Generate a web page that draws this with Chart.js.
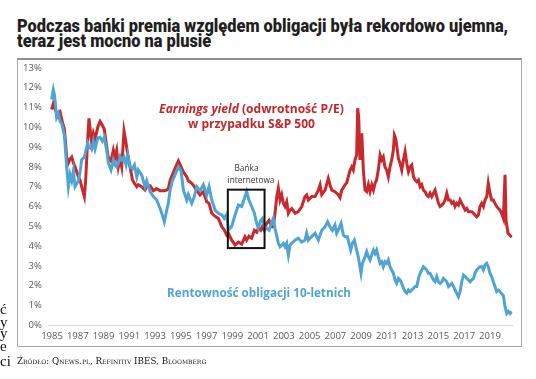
<!DOCTYPE html>
<html><head><meta charset="utf-8">
<script src="https://cdn.jsdelivr.net/npm/chart.js@4.4.1/dist/chart.umd.min.js"></script>
<style>
html,body{margin:0;padding:0;background:#fff;}
body{width:536px;height:379px;overflow:hidden;position:relative;font-family:"Open Sans",sans-serif;}
.t{position:absolute;white-space:nowrap;}
.c{transform:translate(-50%,-50%);}
#t1,#t2{left:17px;font-family:Roboto,sans-serif;font-weight:900;font-size:17.5px;line-height:17px;color:#231f20;transform-origin:0 50%;}
#t1{top:18px}#t2{top:33px}
#frame{position:absolute;left:17px;top:58px;width:503px;height:286px;border:1px solid #a9a9a9;border-top:2px solid #8f8f8f;}
#wrap{position:absolute;left:0;top:0;width:536px;height:379px;}
.red{color:#c3262b;font-weight:700;font-size:12px;}
.blue{color:#4ea4d4;font-weight:700;font-size:12px;}
.bub{color:#333;font-size:10px;}
#src{left:17px;top:356px;font-family:"DejaVu Serif",serif;font-variant:small-caps;font-size:10px;color:#111;}
.frag{left:0px;font-family:"Liberation Serif",serif;font-size:15px;line-height:15px;color:#111;}
</style></head>
<body>
<div id="t1" class="t">Podczas bańki premia względem obligacji była rekordowo ujemna,</div>
<div id="t2" class="t">teraz jest mocno na plusie</div>
<div id="frame"></div>
<div id="wrap"><canvas id="cv" width="536" height="379"></canvas></div>
<div id="r1" class="t c red" style="left:251.5px;top:107.5px"><i>Earnings yield</i> (odwrotność P/E)</div>
<div id="r2" class="t c red" style="left:251.5px;top:122.5px">w przypadku S&amp;P 500</div>
<div id="b1" class="t c bub" style="left:246.5px;top:166.5px">Bańka</div>
<div id="b2" class="t c bub" style="left:251px;top:178.5px">internetowa</div>
<div id="bl" class="t c blue" style="left:259px;top:292px">Rentowność obligacji 10-letnich</div>
<div id="src" class="t">Źródło: Qnews.pl, Refinitiv IBES, Bloomberg</div>
<div class="t frag" style="top:302px">ć</div>
<div class="t frag" style="top:315px">y</div>
<div class="t frag" style="top:326px">y</div>
<div class="t frag" style="top:339px">e</div>
<div class="t frag" style="top:354px">ci</div>
<script>
// ---- data ----
const yearTicks = [1985,1987,1989,1991,1993,1995,1997,1999,2001,2003,2005,2007,2009,2011,2013,2015,2017,2019];
const percentTicks = [0,1,2,3,4,5,6,7,8,9,10,11,12,13];

const earningsYears = [1984.97,1985.1,1985.36,1985.62,1985.75,1985.96,1986.14,1986.27,1986.4,1986.53,1986.66,1986.79,1987.05,1987.17,1987.3,1987.51,1987.61,1987.77,1987.87,1988.08,1988.21,1988.34,1988.55,1988.73,1988.91,1989.06,1989.25,1989.37,1989.58,1989.76,1989.89,1990.02,1990.15,1990.28,1990.41,1990.59,1990.75,1990.88,1991.06,1991.24,1991.4,1991.58,1991.7,1991.96,1992.22,1992.35,1992.61,1992.87,1993.13,1993.39,1993.72,1993.9,1994.03,1994.16,1994.34,1994.55,1994.81,1995.02,1995.2,1995.46,1995.58,1995.85,1996.05,1996.23,1996.49,1996.75,1997.01,1997.19,1997.4,1997.66,1997.91,1998.18,1998.38,1998.56,1998.69,1998.95,1999.21,1999.47,1999.73,1999.98,2000.11,2000.29,2000.5,2000.71,2000.89,2001.02,2001.2,2001.33,2001.48,2001.67,2001.85,2002.06,2002.18,2002.31,2002.45,2002.57,2002.7,2002.83,2002.96,2003.09,2003.22,2003.35,2003.48,2003.61,2003.87,2004.12,2004.39,2004.64,2004.77,2004.9,2005.16,2005.42,2005.68,2005.81,2005.94,2006.2,2006.45,2006.58,2006.72,2006.97,2007.23,2007.36,2007.49,2007.75,2007.88,2008.0,2008.14,2008.27,2008.39,2008.52,2008.65,2008.73,2008.81,2008.91,2009.05,2009.17,2009.3,2009.43,2009.56,2009.69,2009.82,2009.95,2010.08,2010.2,2010.33,2010.47,2010.6,2010.72,2010.85,2010.98,2011.11,2011.24,2011.37,2011.5,2011.58,2011.68,2011.81,2011.89,2012.02,2012.15,2012.28,2012.41,2012.54,2012.67,2012.8,2012.93,2013.06,2013.19,2013.32,2013.45,2013.58,2013.7,2013.83,2013.96,2014.09,2014.22,2014.35,2014.48,2014.61,2014.74,2014.87,2015.0,2015.13,2015.26,2015.39,2015.52,2015.65,2015.78,2015.91,2016.04,2016.17,2016.29,2016.42,2016.55,2016.68,2016.81,2016.94,2017.07,2017.2,2017.33,2017.46,2017.59,2017.72,2017.84,2017.97,2018.1,2018.23,2018.36,2018.49,2018.62,2018.75,2018.87,2019.0,2019.13,2019.26,2019.39,2019.52,2019.65,2019.78,2019.9,2020.04,2020.17,2020.25,2020.4,2020.55,2020.69];
const earningsYield = [10.9,11.2,10.7,10.8,10.4,9.9,8.5,8.2,8.4,8.5,8.2,8.0,7.5,7.35,7.0,6.5,7.3,9.4,10.45,9.2,9.7,9.4,10.0,10.3,10.1,9.9,9.0,8.5,8.3,8.85,8.5,8.85,8.0,8.4,8.0,9.8,9.2,8.6,8.0,7.35,7.17,7.0,7.1,7.0,6.83,7.0,7.05,6.8,6.9,6.8,6.8,6.83,6.9,7.3,7.6,7.93,8.3,8.0,7.75,7.5,7.3,7.17,7.0,6.83,6.58,6.75,6.24,6.16,5.66,5.5,5.4,4.98,4.81,4.56,4.65,4.3,4.05,4.2,4.1,4.47,4.3,4.5,4.4,4.8,4.7,4.9,4.8,4.98,4.8,5.15,5.3,4.98,4.98,5.66,6.5,6.92,6.33,6.6,6.16,6.0,6.24,5.66,5.82,5.9,5.66,5.74,6.0,6.5,6.58,6.33,6.5,6.5,6.83,7.09,6.6,6.83,7.42,7.1,6.83,6.75,6.58,6.45,6.83,7.09,7.2,7.5,7.84,8.0,7.84,8.35,8.6,10.96,10.5,8.35,9.7,7.84,6.83,6.75,7.1,6.75,7.09,6.83,7.17,7.34,7.84,8.6,8.35,8.5,8.0,7.84,7.5,8.0,8.35,8.85,9.6,9.43,8.85,8.43,8.18,7.84,8.35,8.77,8.18,7.76,8.0,8.1,7.5,7.34,7.25,7.34,7.0,7.1,6.83,6.75,6.58,6.5,6.67,6.5,6.67,6.83,6.5,6.16,6.0,6.07,6.16,6.33,6.67,6.33,6.33,6.16,6.24,6.0,6.16,6.07,6.33,6.16,6.0,5.82,5.9,5.74,5.74,5.74,5.66,5.57,5.48,5.57,6.0,6.16,6.0,6.33,6.5,7.17,6.67,6.33,6.33,6.16,6.0,5.9,5.82,5.66,5.4,7.6,5.3,4.65,4.55,4.45];

const bondYears = [1984.97,1985.1,1985.2,1985.36,1985.5,1985.62,1985.75,1985.96,1986.14,1986.27,1986.4,1986.53,1986.66,1986.79,1987.05,1987.17,1987.3,1987.51,1987.77,1987.87,1988.08,1988.21,1988.34,1988.55,1988.73,1988.91,1989.06,1989.25,1989.37,1989.58,1989.76,1989.89,1990.02,1990.15,1990.28,1990.41,1990.59,1990.75,1990.88,1991.06,1991.24,1991.4,1991.58,1991.7,1991.96,1992.22,1992.35,1992.61,1992.87,1993.13,1993.39,1993.55,1993.72,1993.9,1994.03,1994.16,1994.34,1994.55,1994.81,1995.02,1995.2,1995.46,1995.58,1995.85,1996.05,1996.23,1996.49,1996.75,1997.01,1997.19,1997.4,1997.66,1997.91,1998.18,1998.38,1998.56,1998.69,1998.95,1999.21,1999.47,1999.73,1999.98,2000.11,2000.29,2000.5,2000.71,2000.89,2001.02,2001.2,2001.33,2001.48,2001.67,2001.85,2002.06,2002.18,2002.31,2002.45,2002.57,2002.7,2002.83,2002.96,2003.09,2003.22,2003.35,2003.48,2003.61,2003.87,2004.12,2004.39,2004.64,2004.77,2004.9,2005.16,2005.42,2005.68,2005.94,2006.2,2006.4,2006.58,2006.77,2006.97,2007.1,2007.28,2007.44,2007.62,2007.75,2007.93,2008.06,2008.19,2008.32,2008.47,2008.65,2008.78,2008.99,2009.1,2009.3,2009.43,2009.56,2009.69,2009.82,2009.95,2010.08,2010.2,2010.33,2010.47,2010.6,2010.72,2010.85,2010.98,2011.11,2011.24,2011.37,2011.5,2011.63,2011.76,2011.89,2012.02,2012.15,2012.28,2012.41,2012.54,2012.67,2012.8,2012.93,2013.06,2013.19,2013.32,2013.45,2013.58,2013.7,2013.83,2013.96,2014.09,2014.22,2014.35,2014.48,2014.61,2014.74,2014.87,2015.0,2015.13,2015.26,2015.39,2015.52,2015.65,2015.78,2015.91,2016.04,2016.17,2016.29,2016.42,2016.55,2016.68,2016.81,2016.94,2017.07,2017.2,2017.33,2017.46,2017.59,2017.72,2017.84,2017.97,2018.1,2018.23,2018.36,2018.49,2018.62,2018.75,2018.87,2019.0,2019.13,2019.26,2019.39,2019.52,2019.65,2019.78,2019.9,2020.04,2020.17,2020.3,2020.43,2020.56,2020.69];
const bondYield10y = [11.4,11.9,11.6,10.5,10.7,10.3,10.2,9.6,8.0,7.0,7.6,7.3,7.8,7.0,7.3,7.7,8.35,8.5,9.2,9.0,8.9,9.3,8.9,9.45,9.5,9.3,9.5,8.8,8.2,7.85,8.35,8.1,8.0,8.2,8.5,8.35,8.5,8.1,8.6,8.0,7.9,8.1,7.5,7.85,7.6,7.0,7.3,6.75,6.5,6.33,5.9,5.6,5.23,5.8,6.16,6.8,7.3,7.6,8.0,7.8,6.83,6.33,6.6,6.16,6.5,7.0,6.8,7.1,6.58,7.0,6.33,5.82,5.66,5.57,5.4,5.6,4.8,5.0,5.57,6.07,6.0,6.5,6.75,6.33,6.0,5.66,5.15,4.9,5.3,5.4,5.0,4.9,4.8,5.2,5.4,4.9,4.5,4.14,3.97,4.05,4.14,3.97,4.14,3.55,4.05,4.14,4.3,4.4,4.2,4.3,4.65,4.3,4.48,4.65,4.3,4.8,4.98,5.23,4.97,4.8,5.06,4.65,4.9,5.15,4.56,4.47,4.47,4.14,3.8,4.14,4.3,3.8,3.46,2.63,3.13,3.46,3.72,3.46,3.3,3.55,3.8,3.63,3.8,3.46,3.13,3.21,2.96,3.21,3.13,3.3,2.96,2.79,2.63,2.29,2.12,2.37,2.29,2.12,1.87,1.7,1.62,1.78,1.7,1.78,1.87,1.96,1.96,2.37,2.63,2.79,2.96,2.88,2.79,2.63,2.63,2.46,2.29,2.2,2.46,2.2,2.12,2.2,2.37,2.29,2.2,1.96,2.04,2.12,1.96,1.78,1.62,1.44,1.7,2.2,2.54,2.46,2.37,2.29,2.2,2.29,2.37,2.63,2.79,2.88,2.96,2.96,2.79,3.05,3.13,2.96,2.63,2.46,2.2,1.96,1.7,1.78,1.7,1.6,1.5,0.94,0.6,0.7,0.6,0.69];

// annotation box around the dot-com bubble (in data units)
const bubbleBox = {x0:1998.65, x1:2001.5, y0:3.9, y1:6.85};

// ---- fit text widths to the reference ----
function fitW(id, w){const el=document.getElementById(id);const r=el.getBoundingClientRect().width;const fs=parseFloat(getComputedStyle(el).fontSize);el.style.fontSize=(fs*w/r)+'px';}
function squeeze(ids, w){const el=document.getElementById(ids[0]);const r=el.getBoundingClientRect().width;const s=w/r;ids.forEach(i=>{document.getElementById(i).style.transform='scaleX('+s+')';});}
squeeze(['t1','t2'], 491);
fitW('r1',185); fitW('r2',127); fitW('bl',184); fitW('b2',47); fitW('src',192);
document.getElementById('b1').style.fontSize=document.getElementById('b2').style.fontSize;

const boxPlugin = {
  id:'bubbleBox',
  afterDatasetsDraw(chart){
    const {ctx, scales:{x,y}} = chart;
    const l=x.getPixelForValue(bubbleBox.x0), r=x.getPixelForValue(bubbleBox.x1);
    const t=y.getPixelForValue(bubbleBox.y1), b=y.getPixelForValue(bubbleBox.y0);
    ctx.save(); ctx.strokeStyle='#111'; ctx.lineWidth=2; ctx.strokeRect(l,t,r-l,b-t); ctx.restore();
  }
};

const tickFont = {family:'"Open Sans", sans-serif', size:9.5};
new Chart(document.getElementById('cv'), {
  type:'line',
  data:{datasets:[
    {label:'Rentowność obligacji 10-letnich', data:bondYears.map((v,i)=>({x:v,y:bondYield10y[i]})), borderColor:'#4ea4d4', borderWidth:3, pointRadius:0, tension:0, fill:false},
    {label:'Earnings yield', data:earningsYears.map((v,i)=>({x:v,y:earningsYield[i]})), borderColor:'#c9292d', borderWidth:3, pointRadius:0, tension:0, fill:false}
  ]},
  options:{
    responsive:false, animation:false, devicePixelRatio:1,
    layout:{padding:{left:0,right:23.5,top:67.9,bottom:33.7}},
    plugins:{legend:{display:false}, tooltip:{enabled:false}},
    scales:{
      x:{type:'linear', min:1984.75, max:2020.75,
        afterBuildTicks:ax=>{ax.ticks=yearTicks.map(v=>({value:v}));},
        afterFit:s=>{s.height=20;},
        grid:{display:false, drawTicks:false},
        border:{display:true, color:'#d9d9d9', width:1},
        ticks:{callback:v=>String(v), color:'#595959', font:tickFont, padding:5, maxRotation:0, autoSkip:false}},
      y:{min:0, max:13,
        afterBuildTicks:ax=>{ax.ticks=percentTicks.map(v=>({value:v}));},
        afterFit:s=>{s.width=48.8;},
        grid:{display:false, drawTicks:false},
        border:{display:false},
        ticks:{callback:v=>v+'%', color:'#595959', font:tickFont, padding:7}}
    }
  },
  plugins:[boxPlugin]
});
</script>
</body></html>
